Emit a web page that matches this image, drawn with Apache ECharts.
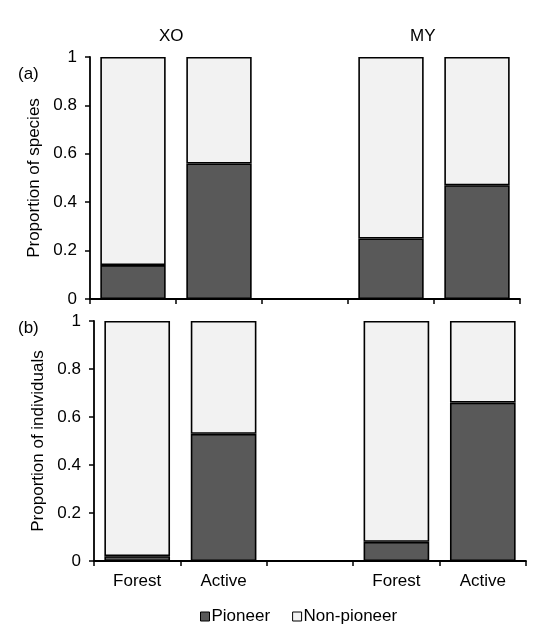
<!DOCTYPE html>
<html>
<head>
<meta charset="utf-8">
<script src="https://cdn.jsdelivr.net/npm/echarts@6/dist/echarts.min.js"></script>
<style>
  html, body { margin: 0; padding: 0; background: #fff; }
  #chart { width: 541px; height: 627px; }
</style>
</head>
<body>
<div id="chart"></div>
<script>
// categories: two sites, each with Forest / Active, blank slot between them
var categories = ['Forest', 'Active', '', 'Forest', 'Active'];
var sites = ['XO', 'MY'];

// (a) proportion of species
var pioneerSpecies = [0.14, 0.56, null, 0.25, 0.47];
var nonPioneerSpecies = [0.86, 0.44, null, 0.75, 0.53];

// (b) proportion of individuals
var pioneerIndividuals = [0.02, 0.53, null, 0.08, 0.66];
var nonPioneerIndividuals = [0.98, 0.47, null, 0.92, 0.34];

var FONT = 'Liberation Sans, Arial, sans-serif';
var DARK = '#595959';
var LIGHT = '#f2f2f2';

function make_x_axis(gridIndex, showLabels) {
    return {
        type: 'category',
        gridIndex: gridIndex,
        data: categories,
        axisLine: { lineStyle: { color: '#000', width: 1.8 } },
        axisTick: { show: true, length: 5, lineStyle: { color: '#000', width: 1.5 } },
        axisLabel: {
            show: showLabels,
            color: '#000',
            fontSize: 17,
            fontFamily: FONT,
            margin: 12
        }
    };
}

function make_y_axis(gridIndex, name, gap) {
    return {
        type: 'value',
        gridIndex: gridIndex,
        min: 0,
        max: 1,
        interval: 0.2,
        name: name,
        nameLocation: 'middle',
        nameGap: gap,
        nameTextStyle: { color: '#000', fontSize: 17, fontFamily: FONT },
        axisLine: { show: true, lineStyle: { color: '#000', width: 1.8 } },
        axisTick: { show: true, length: 5, lineStyle: { color: '#000', width: 1.5 } },
        axisLabel: { color: '#000', fontSize: 17, fontFamily: FONT, margin: 13 },
        splitLine: { show: false }
    };
}

function make_bar(name, data, gridIndex, stack, color) {
    return {
        name: name,
        type: 'bar',
        xAxisIndex: gridIndex,
        yAxisIndex: gridIndex,
        stack: stack,
        barWidth: '76%',
        data: data,
        itemStyle: { color: color, borderColor: '#000', borderWidth: 1.6 }
    };
}

var option = {
    backgroundColor: '#fff',
    animation: false,
    textStyle: { fontFamily: FONT },
    grid: [
        { left: 90, right: 21, top: 57, height: 242 },
        { left: 94, right: 15, top: 321, height: 240 }
    ],
    xAxis: [make_x_axis(0, false), make_x_axis(1, true)],
    yAxis: [
        make_y_axis(0, 'Proportion of species', 39),
        make_y_axis(1, 'Proportion of individuals', 43)
    ],
    legend: {
        data: ['Pioneer', 'Non-pioneer'],
        left: 195,
        top: 603,
        icon: 'rect',
        itemWidth: 9,
        itemHeight: 9,
        itemGap: 22,
        itemStyle: { borderColor: '#000', borderWidth: 1 },
        textStyle: { color: '#000', fontSize: 17, fontFamily: FONT, padding: [0, 0, 0, -3] }
    },
    graphic: [
        { type: 'text', left: 159, top: 28, style: { text: sites[0], fill: '#000', font: '17px ' + FONT } },
        { type: 'text', left: 410, top: 28, style: { text: sites[1], fill: '#000', font: '17px ' + FONT } },
        { type: 'text', left: 18, top: 66, style: { text: '(a)', fill: '#000', font: '17px ' + FONT } },
        { type: 'text', left: 18, top: 320, style: { text: '(b)', fill: '#000', font: '17px ' + FONT } }
    ],
    series: [
        make_bar('Pioneer', pioneerSpecies, 0, 'a', DARK),
        make_bar('Non-pioneer', nonPioneerSpecies, 0, 'a', LIGHT),
        make_bar('Pioneer', pioneerIndividuals, 1, 'b', DARK),
        make_bar('Non-pioneer', nonPioneerIndividuals, 1, 'b', LIGHT)
    ]
};

var myChart = echarts.init(document.getElementById('chart'));
myChart.setOption(option);
</script>
</body>
</html>
